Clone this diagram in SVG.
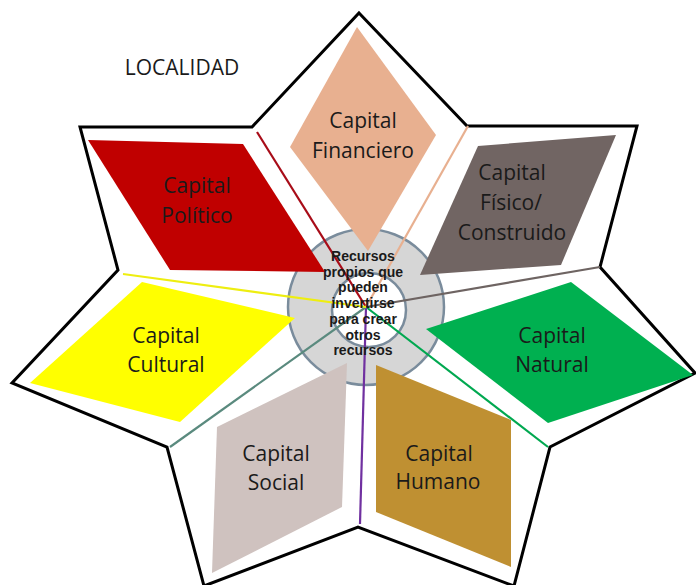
<svg xmlns="http://www.w3.org/2000/svg" width="696" height="585" viewBox="0 0 696 585">
<style>
.lbl{font-family:"Open Sans","Liberation Sans",sans-serif;font-size:21px;fill:#1a1a1a;text-anchor:middle}
.ctr{font-family:"Liberation Sans",Arial,sans-serif;font-size:14px;font-weight:bold;fill:#1a1a1a;text-anchor:middle}
.con{stroke-width:2.2;fill:none}
</style>
<rect width="696" height="585" fill="#ffffff"/>
<g id="star">
<polygon points="359,13 467,126 637,126 600,267 695,373 550,447 514,586 358,527 204,586 167,447 12,383 118,270 80,127 252,127" fill="#ffffff" stroke="#000000" stroke-width="3" stroke-linejoin="miter"/>
</g>
<text x="182" y="75" font-family="Open Sans,Liberation Sans,sans-serif" font-size="21" fill="#1a1a1a" text-anchor="middle">LOCALIDAD</text>
<g id="center-circle">
<circle cx="366" cy="307" r="78" fill="#d6d6d6" stroke="#7a8c9c" stroke-width="2.5"/>
<circle cx="369" cy="310" r="37" fill="#ffffff" stroke="#7a8c9c" stroke-width="2.5"/>
</g>
<g id="financiero">
<polygon points="357,27 436,135 368,251 290,147" fill="#e8b090"/>
<text class="lbl" x="363" y="128">Capital</text>
<text class="lbl" x="363" y="158">Financiero</text>
</g>
<g id="politico">
<polygon points="88,140 243,144 325,272 170,270" fill="#c00000"/>
<text class="lbl" x="197" y="193">Capital</text>
<text class="lbl" x="197" y="223">Político</text>
</g>
<g id="fisico">
<polygon points="478,146 616,135 561,265 420,275" fill="#716563"/>
<text class="lbl" x="512" y="180">Capital</text>
<text class="lbl" x="511" y="210">Físico/</text>
<text class="lbl" x="512" y="240">Construido</text>
</g>
<g id="cultural">
<polygon points="142,282 295,318 180,422 30,383" fill="#ffff00"/>
<text class="lbl" x="166" y="343">Capital</text>
<text class="lbl" x="166" y="372">Cultural</text>
</g>
<g id="natural">
<polygon points="571,282 693,375 548,423 426,329" fill="#00b050"/>
<text class="lbl" x="552" y="343">Capital</text>
<text class="lbl" x="552" y="372">Natural</text>
</g>
<g id="social">
<polygon points="217,427 347,363 342,507 212,573" fill="#cfc2bf"/>
<text class="lbl" x="276" y="461">Capital</text>
<text class="lbl" x="276" y="490">Social</text>
</g>
<g id="humano">
<polygon points="376,365 511,420 511,567 376,512" fill="#bf9032"/>
<text class="lbl" x="439" y="461">Capital</text>
<text class="lbl" x="438" y="489">Humano</text>
</g>
<g id="connectors">
<line class="con" x1="257" y1="132" x2="366" y2="307" stroke="#a80c18"/>
<line class="con" x1="468" y1="126" x2="366" y2="307" stroke="#e8b090"/>
<line class="con" x1="600" y1="267" x2="366" y2="307" stroke="#6e6462"/>
<line class="con" x1="548" y1="447" x2="366" y2="307" stroke="#00a850"/>
<line class="con" x1="360" y1="524" x2="366" y2="307" stroke="#7030a0"/>
<line class="con" x1="170" y1="447" x2="366" y2="307" stroke="#5a8a7e"/>
<line class="con" x1="123" y1="274" x2="366" y2="307" stroke="#eeee10"/>
</g>
<g id="center-text">
<text class="ctr" x="363" y="261">Recursos</text>
<text class="ctr" x="363" y="277">propios que</text>
<text class="ctr" x="363" y="292">pueden</text>
<text class="ctr" x="363" y="308">invertirse</text>
<text class="ctr" x="363" y="324">para crear</text>
<text class="ctr" x="363" y="340">otros</text>
<text class="ctr" x="363" y="355">recursos</text>
</g>
</svg>
